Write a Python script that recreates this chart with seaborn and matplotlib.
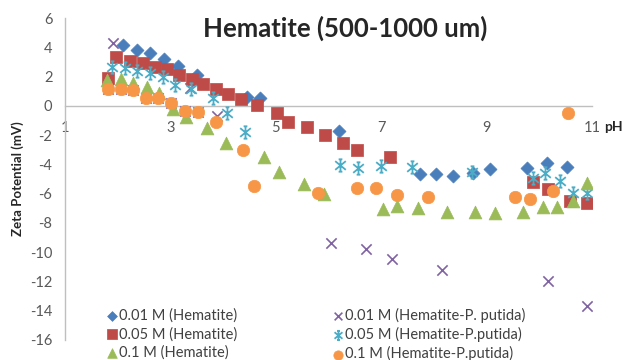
import numpy as np
import pandas as pd
import matplotlib
matplotlib.use("Agg")
import matplotlib.pyplot as plt
from matplotlib.path import Path
import seaborn as sns

# pH and zeta potential (mV) for each electrolyte concentration
ph_001_hem = [2.10, 2.37, 2.61, 2.88, 3.14, 3.50, 4.45, 4.70, 6.20, 7.74, 8.04, 8.36, 8.74, 9.06, 9.77, 10.15, 10.53]
zp_001_hem = [4.15, 3.81, 3.61, 3.20, 2.72, 2.10, 0.60, 0.53, -1.72, -4.66, -4.66, -4.79, -4.59, -4.32, -4.25, -3.91, -4.18]

ph_001_pp = [1.82, 1.91, 2.06, 2.29, 2.54, 2.76, 3.01, 3.28, 3.37, 3.52, 3.88, 6.05, 6.71, 7.20, 8.15, 10.17, 10.90]
zp_001_pp = [1.15, 4.29, 1.15, 1.08, 0.53, 0.53, 0.19, -0.36, 1.20, -0.42, -0.70, -9.37, -9.78, -10.46, -11.20, -12.00, -13.70]

ph_005_hem = [1.82, 1.97, 2.23, 2.48, 2.71, 2.94, 3.16, 3.41, 3.62, 3.87, 4.09, 4.34, 4.64, 5.02, 5.23, 5.59, 5.93, 6.28, 6.54, 7.17, 9.88, 10.17, 10.58, 10.90]
zp_005_hem = [1.90, 3.33, 3.06, 2.92, 2.65, 2.51, 2.10, 1.83, 1.49, 1.15, 0.81, 0.46, 0.05, -0.50, -1.10, -1.45, -2.00, -2.54, -3.02, -3.50, -5.20, -5.69, -6.50, -6.63]

ph_005_pp = [1.89, 2.14, 2.37, 2.61, 2.86, 3.09, 3.39, 3.81, 4.07, 4.42, 6.22, 6.56, 7.00, 7.58, 8.72, 9.88, 10.11, 10.39, 10.64, 10.90]
zp_005_pp = [2.65, 2.58, 2.38, 2.24, 1.97, 1.42, 1.15, 0.53, -0.50, -1.79, -4.04, -4.25, -4.10, -4.18, -4.52, -4.93, -4.60, -5.15, -5.96, -5.96]

ph_01_hem = [1.80, 2.06, 2.29, 2.56, 2.78, 3.05, 3.30, 3.69, 4.05, 4.78, 5.06, 5.54, 5.91, 7.03, 7.30, 7.70, 8.25, 8.78, 9.16, 9.69, 10.07, 10.34, 10.64, 10.90]
zp_01_hem = [1.76, 1.83, 1.56, 1.28, 0.87, -0.22, -0.77, -1.52, -2.54, -3.50, -4.50, -5.34, -6.00, -7.05, -6.85, -6.98, -7.25, -7.25, -7.32, -7.25, -6.91, -6.91, -6.50, -5.28]

ph_01_pp = [1.82, 2.06, 2.29, 2.54, 2.76, 3.01, 3.28, 3.52, 3.87, 4.38, 4.59, 5.80, 6.54, 6.90, 7.30, 7.89, 9.54, 9.82, 10.26, 10.54]
zp_01_pp = [1.15, 1.15, 1.08, 0.53, 0.53, 0.19, -0.36, -0.42, -1.10, -3.02, -5.48, -5.96, -5.62, -5.62, -6.10, -6.23, -6.23, -6.37, -5.82, -0.50]

labels = ["0.01 M (Hematite)", "0.01 M (Hematite-P. putida)",
          "0.05 M (Hematite)", "0.05 M (Hematite-P.putida)",
          "0.1 M (Hematite)", "0.1 M (Hematite-P.putida)"]

x_ticks = [1, 3, 5, 7, 9, 11]
y_ticks = [6, 4, 2, 0, -2, -4, -6, -8, -10, -12, -14, -16]

# Asterisk marker: vertical bar with serifs plus an X
star = Path(
    [(0, -1), (0, 1), (-0.85, -0.7), (0.85, 0.7), (-0.85, 0.7), (0.85, -0.7),
     (-0.3, 1), (0.3, 1), (-0.3, -1), (0.3, -1)],
    [Path.MOVETO, Path.LINETO, Path.MOVETO, Path.LINETO, Path.MOVETO, Path.LINETO,
     Path.MOVETO, Path.LINETO, Path.MOVETO, Path.LINETO])

series = [
    (ph_001_hem, zp_001_hem, "D", "#4A7EBB", 44, 0.5),
    (ph_001_pp, zp_001_pp, "x", "#8064A2", 55, 1.2),
    (ph_005_hem, zp_005_hem, "s", "#BE4B48", 80, 0.5),
    (ph_005_pp, zp_005_pp, star, "#4BACC6", 80, 1.3),
    (ph_01_hem, zp_01_hem, "^", "#9BBB59", 85, 0.5),
    (ph_01_pp, zp_01_pp, "o", "#F79646", 80, 0.5),
]

sns.set_style("white")
plt.rcParams["font.family"] = ["Lato", "DejaVu Sans"]

fig = plt.figure(figsize=(6.24, 3.6), dpi=100)
ax = fig.add_axes([0.104, 0.0556, 0.845, 0.894])

for (ph, zp, mk, col, size, lw), lab in zip(series, labels):
    df = pd.DataFrame({"pH": ph, "zeta": zp})
    sns.scatterplot(data=df, x="pH", y="zeta", marker=mk, color=col,
                    edgecolor=col, s=size, linewidth=lw, label=lab, ax=ax,
                    zorder=3)

ax.set_xlim(1, 11)
ax.set_ylim(-16, 6)
ax.set_xticks(x_ticks)
ax.set_yticks(y_ticks)
ax.set_xticklabels([str(t) for t in x_ticks])
ax.set_yticklabels([str(t) for t in y_ticks])

ax.spines["top"].set_visible(False)
ax.spines["right"].set_visible(False)
ax.spines["bottom"].set_position(("data", 0))
for sp in ("left", "bottom"):
    ax.spines[sp].set_color("#BFBFBF")
    ax.spines[sp].set_linewidth(1.0)
ax.tick_params(axis="both", length=0, labelsize=10.5, labelcolor="#595959")
ax.tick_params(axis="x", pad=11)
ax.tick_params(axis="y", pad=9)

ax.set_xlabel("")
ax.set_ylabel("Zeta Potential (mV)", fontsize=9.5, fontweight="bold", labelpad=4)
ax.text(11.22, -1.45, "pH", fontsize=10, fontweight="bold", va="center",
        ha="left", transform=ax.transData)

fig.text(0.553, 0.92, "Hematite (500-1000 um)", fontsize=18.5,
         fontweight="bold", ha="center", va="center")

handles, labs = ax.get_legend_handles_labels()
order = [0, 2, 4, 1, 3, 5]
ax.legend([handles[i] for i in order], [labs[i] for i in order], ncol=2,
          loc="upper left", bbox_to_anchor=(0.163, 0.162),
          bbox_transform=fig.transFigure, frameon=False, fontsize=10.5,
          handlelength=0.6, handletextpad=0.2, columnspacing=6.6,
          labelspacing=0.3, borderaxespad=0, markerscale=0.75,
          labelcolor="#404040")

fig.savefig("out.png", dpi=100)
